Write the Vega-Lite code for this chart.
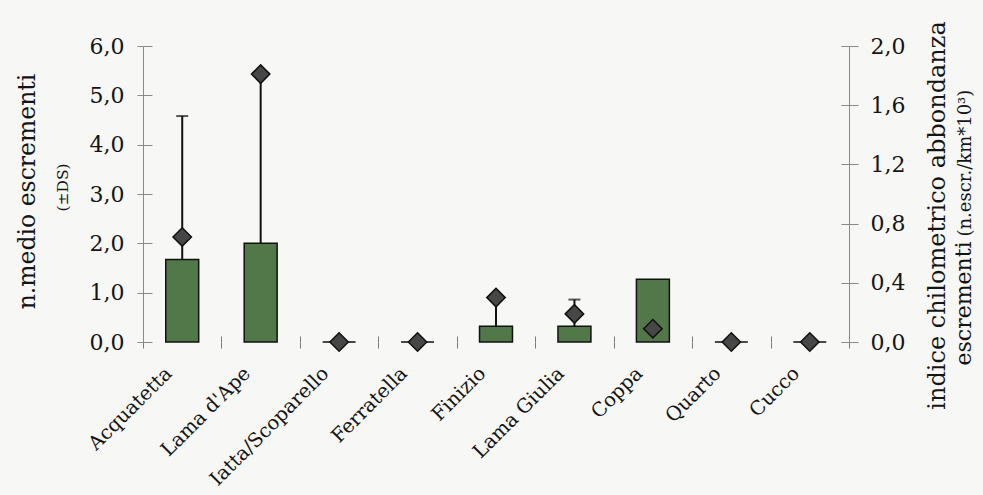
{
  "$schema": "https://vega.github.io/schema/vega-lite/v6.json",
  "width": 706,
  "height": 296,
  "autosize": {"type": "none"},
  "padding": {"left": 143, "top": 46, "right": 134, "bottom": 153},
  "background": "#f7f7f5",
  "config": {
    "locale": {"number": {"decimal": ",", "thousands": ".", "grouping": [3], "currency": ["", " €"]}},
    "font": "DejaVu Serif",
    "view": {"stroke": null},
    "axis": {
      "labelFont": "DejaVu Serif",
      "titleFont": "DejaVu Serif",
      "labelColor": "#141414",
      "titleColor": "#141414",
      "titleFontWeight": "normal"
    }
  },
  "data": {
    "values": [
      {"sito": "Acquatetta", "media": 1.67, "sup": 4.58, "ika": 0.71},
      {"sito": "Lama d'Ape", "media": 2.0, "sup": 5.45, "ika": 1.81},
      {"sito": "Iatta/Scoparello", "media": 0, "sup": null, "ika": 0},
      {"sito": "Ferratella", "media": 0, "sup": null, "ika": 0},
      {"sito": "Finizio", "media": 0.32, "sup": 0.85, "ika": 0.30},
      {"sito": "Lama Giulia", "media": 0.32, "sup": 0.86, "ika": 0.19},
      {"sito": "Coppa", "media": 1.27, "sup": null, "ika": 0.09},
      {"sito": "Quarto", "media": 0, "sup": null, "ika": 0},
      {"sito": "Cucco", "media": 0, "sup": null, "ika": 0}
    ]
  },
  "encoding": {
    "x": {
      "field": "sito",
      "type": "nominal",
      "sort": null,
      "scale": {"paddingInner": 0, "paddingOuter": 0},
      "axis": {
        "title": null,
        "domain": false,
        "labelAngle": -45,
        "labelAlign": "right",
        "labelBaseline": "middle",
        "labelFontSize": 19.5,
        "labelPadding": 22,
        "labelOffset": -14,
        "labelLimit": 0,
        "tickBand": "extent",
        "tickSize": 6,
        "tickColor": "#7a7a7a",
        "grid": true,
        "gridDash": [0, 290, 6, 1000],
        "gridColor": "#7a7a7a"
      }
    }
  },
  "layer": [
    {
      "mark": {"type": "bar", "width": {"band": 0.42}, "fill": "#527849", "stroke": "#111111", "strokeWidth": 1.5},
      "encoding": {
        "y": {
          "field": "media",
          "type": "quantitative",
          "scale": {"domain": [0, 6]},
          "axis": {
            "orient": "left",
            "values": [0, 1, 2, 3, 4, 5, 6],
            "format": ".1f",
            "labelFontSize": 22,
            "labelPadding": 13,
            "tickSize": 6,
            "tickColor": "#8a8a8a",
            "domainColor": "#8a8a8a",
            "grid": true,
            "gridDash": [9, 1000],
            "gridColor": "#8a8a8a",
            "title": "(±DS)",
            "titleFontSize": 15.5,
            "titleAngle": 270,
            "titleAlign": "center",
            "titleBaseline": "alphabetic",
            "titleX": -76,
            "titleY": 141
          }
        }
      }
    },
    {
      "transform": [{"filter": "datum.sup != null"}],
      "mark": {"type": "rule", "color": "#111111", "strokeWidth": 2},
      "encoding": {
        "y": {
          "field": "media",
          "type": "quantitative",
          "scale": {"domain": [0, 6]},
          "axis": {
            "orient": "left",
            "labels": false,
            "ticks": false,
            "domain": false,
            "grid": false,
            "title": "n.medio escrementi",
            "titleFontSize": 23.5,
            "titleAngle": 270,
            "titleAlign": "center",
            "titleBaseline": "alphabetic",
            "titleX": -109,
            "titleY": 145
          }
        },
        "y2": {"field": "sup"}
      }
    },
    {
      "transform": [{"filter": "datum.sup != null"}],
      "mark": {"type": "tick", "color": "#111111", "size": 12, "thickness": 2, "orient": "horizontal"},
      "encoding": {
        "y": {
          "field": "sup",
          "type": "quantitative",
          "scale": {"domain": [0, 6]},
          "axis": {
            "orient": "right",
            "labels": false,
            "ticks": false,
            "domain": false,
            "grid": false,
            "title": "escrementi",
            "titleFontSize": 22,
            "titleAngle": 270,
            "titleAlign": "left",
            "titleBaseline": "alphabetic",
            "titleX": 121,
            "titleY": 319
          }
        }
      }
    },
    {
      "mark": {"type": "rule", "color": "#222222", "strokeWidth": 1.5},
      "encoding": {
        "y": {
          "datum": 0,
          "type": "quantitative",
          "scale": {"domain": [0, 6]},
          "axis": {
            "orient": "right",
            "labels": false,
            "ticks": false,
            "domain": false,
            "grid": false,
            "title": "(n.escr./km*10³)",
            "titleFontSize": 18,
            "titleAngle": 270,
            "titleAlign": "left",
            "titleBaseline": "alphabetic",
            "titleX": 121,
            "titleY": 190
          }
        }
      }
    },
    {
      "mark": {"type": "point", "shape": "diamond", "filled": true, "size": 340, "fill": "#474747", "stroke": "#111111", "strokeWidth": 1.5, "opacity": 1},
      "encoding": {
        "y": {
          "field": "ika",
          "type": "quantitative",
          "scale": {"domain": [0, 2]},
          "axis": {
            "orient": "right",
            "values": [0, 0.4, 0.8, 1.2, 1.6, 2.0],
            "format": ".1f",
            "labelFontSize": 22,
            "labelPadding": 12,
            "tickSize": 9,
            "tickColor": "#8a8a8a",
            "domainColor": "#8a8a8a",
            "grid": true,
            "gridDash": [8, 1000],
            "gridColor": "#8a8a8a",
            "title": "indice chilometrico abbondanza",
            "titleFontSize": 24,
            "titleAngle": 270,
            "titleAlign": "center",
            "titleBaseline": "alphabetic",
            "titleX": 95,
            "titleY": 169
          }
        }
      }
    }
  ],
  "resolve": {"scale": {"y": "independent"}, "axis": {"y": "independent"}}
}
